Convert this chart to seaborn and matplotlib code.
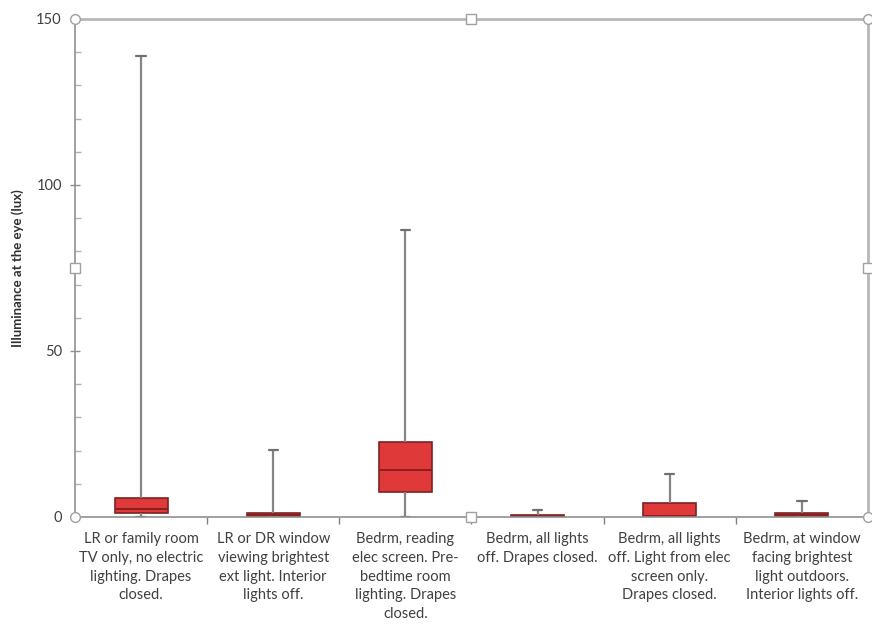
import matplotlib
matplotlib.use("Agg")
import matplotlib.pyplot as plt
import seaborn as sns
import pandas as pd

# five-number summaries (min, q1, median, q3, max), lux
conditions = [
    "LR or family room\nTV only, no electric\nlighting. Drapes\nclosed.",
    "LR or DR window\nviewing brightest\next light. Interior\nlights off.",
    "Bedrm, reading\nelec screen. Pre-\nbedtime room\nlighting. Drapes\nclosed.",
    "Bedrm, all lights\noff. Drapes closed.",
    "Bedrm, all lights\noff. Light from elec\nscreen only.\nDrapes closed.",
    "Bedrm, at window\nfacing brightest\nlight outdoors.\nInterior lights off.",
]
lux_min = [0.0, 0.0, 0.0, 0.0, 0.0, 0.0]
lux_q1 = [1.1, 0.1, 7.4, 0.05, 0.05, 0.1]
lux_median = [2.3, 0.5, 14.1, 0.3, 0.3, 0.5]
lux_q3 = [5.6, 1.1, 22.5, 0.6, 4.1, 1.1]
lux_max = [139.0, 20.2, 86.4, 2.1, 13.0, 4.9]

rows = []
for i, c in enumerate(conditions):
    for v in (lux_min[i], lux_q1[i], lux_median[i], lux_q3[i], lux_max[i]):
        rows.append({"condition": c, "lux": v})
df = pd.DataFrame(rows)

sns.set_style("white")
plt.rcParams["font.family"] = ["Lato", "DejaVu Sans"]

fig = plt.figure(figsize=(8.72, 6.25), dpi=100)
ax = fig.add_axes([0.086, 0.1728, 0.9094, 0.7968])

# with 5 points and whis=(0,100) the quartiles land exactly on q1/median/q3
sns.boxplot(data=df, x="condition", y="lux", order=conditions, ax=ax,
            whis=(0, 100), width=0.4, color="#e0393a", linecolor="#7a2222",
            linewidth=1.2, capwidths=0.07, saturation=1,
            whiskerprops=dict(color="#858585", linewidth=1.6),
            capprops=dict(color="#707070", linewidth=1.6),
            medianprops=dict(color="#8a1e1e", linewidth=1.4))

ax.set_xlim(-0.5, 5.5)
ax.set_ylim(0, 150)
ax.set_yticks([0, 50, 100, 150])
ax.set_yticks(range(0, 151, 10), minor=True)
ax.tick_params(axis="y", which="major", direction="inout", length=7, width=1,
               color="#909090", labelsize=10.5, labelcolor="#404040", pad=6, left=True)
ax.tick_params(axis="y", which="minor", direction="in", length=4, width=1,
               color="#b0b0b0", left=True)

ax.set_xticks(range(len(conditions)))
ax.set_xticklabels(conditions, fontsize=10.5, color="#404040", linespacing=1.42)
ax.set_xticks([k + 0.5 for k in range(len(conditions) - 1)], minor=True)
ax.tick_params(axis="x", which="major", length=0, pad=11)
ax.tick_params(axis="x", which="minor", direction="out", length=5, width=1,
               color="#808080", bottom=True)
ax.set_xlabel("")
ax.set_ylabel("Illuminance at the eye (lux)", fontsize=9.5, fontweight="bold",
              color="#303030", labelpad=9)

for side in ["left", "bottom"]:
    ax.spines[side].set_color("#909090")
    ax.spines[side].set_linewidth(1.2)
for side in ["top", "right"]:
    ax.spines[side].set_color("#b8b8b8")
    ax.spines[side].set_linewidth(2)

# chart selection handles
for hx, hy, m in [(0, 1, "o"), (1, 1, "o"), (0, 0, "o"), (1, 0, "o"),
                  (0.5, 1, "s"), (0.5, 0, "s"), (0, 0.5, "s"), (1, 0.5, "s")]:
    ax.plot(hx, hy, marker=m, markersize=7, markerfacecolor="white",
            markeredgecolor="#a0a0a0", markeredgewidth=1,
            transform=ax.transAxes, clip_on=False, zorder=10)

fig.savefig("out.png", dpi=100)
